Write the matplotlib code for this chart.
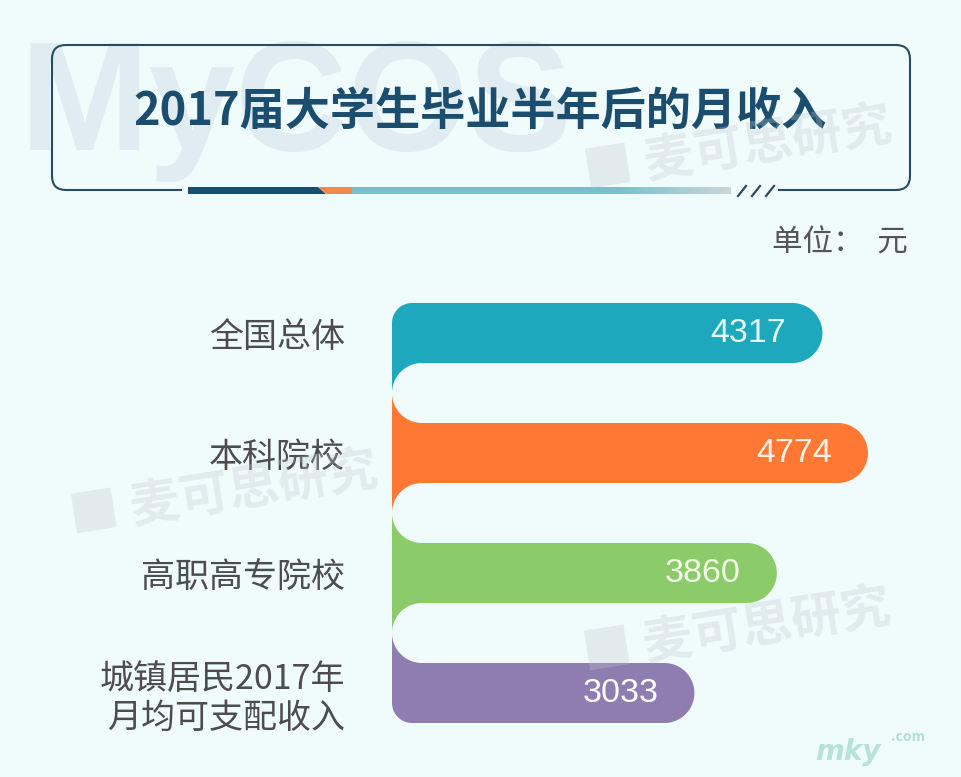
import numpy as np
import matplotlib
matplotlib.use('Agg')
import matplotlib.pyplot as plt
from matplotlib.patches import Polygon, Rectangle, FancyBboxPatch

plt.rcParams['font.family'] = ['Noto Sans CJK SC', 'DejaVu Sans']

# data
categories = ['全国总体', '本科院校', '高职高专院校', '城镇居民2017年\n月均可支配收入']
values = [4317, 4774, 3860, 3033]
bar_colors = ['#1ea8bd', '#ff7935', '#8ccb69', '#8f7db2']
value_colors = ['#e4fbff', '#fff1e4', '#f2ffe4', '#ffffff']
title = '2017届大学生毕业半年后的月收入'
unit = '单位：  元'
watermark = '■ 麦可思研究'

BG = '#f0fbfc'
NAVY = '#1b4e6e'

fig = plt.figure(figsize=(9.61, 7.77), dpi=100, facecolor=BG)

# background axes in pixel units
bg = fig.add_axes([0, 0, 1, 1], zorder=0)
bg.set_xlim(0, 961)
bg.set_ylim(777, 0)
bg.axis('off')

bg.text(20, 150, 'MyCOS', fontsize=112, family='Liberation Sans',
        fontweight='bold', color='#e0ecf1', ha='left', va='baseline', zorder=0)

# title box
bg.add_patch(FancyBboxPatch((52, 45), 858, 145, boxstyle='round,pad=0,rounding_size=14',
                            fc='none', ec='#2b4a5f', lw=1.5, zorder=2))
bg.add_patch(Rectangle((182, 185), 596, 10, fc=BG, ec='none', zorder=3))
bg.add_patch(Polygon([(188, 187), (318, 187), (326, 194), (188, 194)], fc='#17506f', ec='none', zorder=4))
bg.add_patch(Polygon([(318, 187), (354, 187), (354, 194), (326, 194)], fc='#f0894a', ec='none', zorder=4))
bg.add_patch(Polygon([(352, 187), (612, 187), (612, 194), (352, 194)], fc='#72c1cb', ec='none', zorder=4))
c0 = np.array(matplotlib.colors.to_rgb('#72c1cb'))
c1 = np.array(matplotlib.colors.to_rgb('#cbd4d7'))
steps = 24
for k in range(steps):
    xa = 610 + k * 120 / steps
    col = c0 + (c1 - c0) * k / (steps - 1)
    bg.add_patch(Rectangle((xa, 187), 120 / steps + 0.6, 7, fc=col, ec='none', zorder=4))
for xs in [738, 752, 766]:
    bg.plot([xs, xs + 8], [196, 186], color='#2b4a5f', lw=1.6, zorder=4)

bg.text(480, 112, title, fontsize=32.5, fontweight=900, color=NAVY,
        ha='center', va='center', zorder=5)
bg.text(908, 243, unit, fontsize=22, color='#555555', ha='right', va='center')

# bar axes: x in value units, y in category index
px_per_unit = 0.0997
ux = 1 / px_per_unit
uy = 1 / 120
ax = fig.add_axes([392 / 961, 37 / 777, 568 / 961, 460 / 777], zorder=1)
ax.set_facecolor('none')
xmax = 568 * ux
ax.set_xlim(0, xmax)
ax.set_ylim((740 - 333) * uy, (280 - 333) * uy)


def rounded(x0, x1, y0, y1, tl=0, tr=0, br=0, bl=0, **kw):
    pts = []
    for cx, cy, r, a0 in [(x0 + tl * ux, y0 + tl * uy, tl, 180),
                          (x1 - tr * ux, y0 + tr * uy, tr, 270),
                          (x1 - br * ux, y1 - br * uy, br, 0),
                          (x0 + bl * ux, y1 - bl * uy, bl, 90)]:
        t = np.radians(np.linspace(a0, a0 + 90, 20))
        pts += list(zip(cx + r * ux * np.cos(t), cy + r * uy * np.sin(t)))
    return Polygon(pts, closed=True, ec='none', **kw)


n = len(values)
hb = 30 * uy
for i, (v, c) in enumerate(zip(values, bar_colors)):
    ax.add_patch(rounded(0, v, i - hb, i + hb, tl=20 if i == 0 else 0, tr=30, br=30,
                         bl=20 if i == n - 1 else 0, fc=c, zorder=2))
    s0 = i - 0.5 if i > 0 else i
    s1 = i + 0.5 if i < n - 1 else i
    ax.add_patch(Rectangle((0, s0), 60 * ux, s1 - s0, fc=c, ec='none', zorder=1))
    ax.text(v - 36 * ux, i, f'{v}', ha='right', va='center', fontsize=24.5,
            family='Liberation Sans', color=value_colors[i], zorder=4)

for i in range(n - 1):
    ax.add_patch(rounded(0, xmax, i + hb, i + 1 - hb, tl=30, bl=30, fc=BG, zorder=3))

ax.set_yticks(range(n))
ax.set_yticklabels(categories, fontsize=24.5, color='#4d4d4d', linespacing=1.15)
ax.tick_params(axis='y', length=0, pad=34)
ax.xaxis.set_visible(False)
for s in ax.spines.values():
    s.set_visible(False)

# watermarks on top
top = fig.add_axes([0, 0, 1, 1], zorder=3)
top.set_xlim(0, 961)
top.set_ylim(777, 0)
top.axis('off')
for wx, wy in [(738, 150), (224, 495), (737, 632)]:
    top.text(wx, wy, watermark, fontsize=36, fontweight='bold', color='#bfc8cc', alpha=0.3,
             rotation=9, ha='center', va='center', rotation_mode='anchor')
top.text(848, 752, 'mky', fontsize=20, fontweight='bold', style='italic', family='DejaVu Sans',
         color='#9ed8cc', alpha=0.7, ha='center', va='center')
top.text(908, 737, '.com', fontsize=10, fontweight='bold', color='#9ed8cc', alpha=0.8,
         ha='center', va='center')

fig.savefig('out.png', dpi=100, facecolor=BG)
